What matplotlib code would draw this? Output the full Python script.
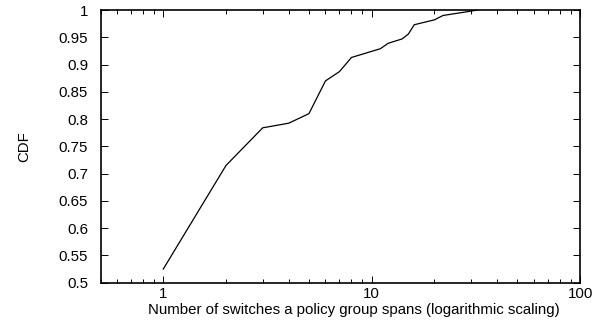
import matplotlib
matplotlib.use('Agg')
import matplotlib.pyplot as plt
from matplotlib.ticker import LogLocator, FixedLocator, NullFormatter, FixedFormatter

plt.rcParams['font.family'] = ['Liberation Sans', 'DejaVu Sans']

# data
switches = [1, 2, 3, 4, 5, 6, 7, 8, 11, 12, 14, 15, 16, 20, 22, 30, 32]
cdf = [0.525, 0.715, 0.784, 0.7925, 0.810, 0.870, 0.887, 0.913, 0.929,
       0.939, 0.947, 0.956, 0.973, 0.982, 0.990, 0.998, 1.0]

x_ticks = [1, 10, 100]
x_labels = ['1', '10', '100']
y_ticks = [0.5, 0.55, 0.6, 0.65, 0.7, 0.75, 0.8, 0.85, 0.9, 0.95, 1.0]
y_labels = ['0.5', '0.55', '0.6', '0.65', '0.7', '0.75', '0.8', '0.85', '0.9', '0.95', '1']

fig = plt.figure(figsize=(6.1, 3.21), dpi=100)
ax = fig.add_axes([0.1648, 0.1193, 0.7862, 0.8495])

ax.plot(switches, cdf, color='black', lw=0.9)

ax.set_xscale('log')
ax.set_xlim(0.5, 100)
ax.set_ylim(0.5, 1.0)

ax.xaxis.set_major_locator(FixedLocator(x_ticks))
ax.xaxis.set_major_formatter(FixedFormatter(x_labels))
ax.xaxis.set_minor_locator(LogLocator(base=10, subs=range(2, 10)))
ax.xaxis.set_minor_formatter(NullFormatter())
ax.yaxis.set_major_locator(FixedLocator(y_ticks))
ax.yaxis.set_major_formatter(FixedFormatter(y_labels))

ax.tick_params(which='both', direction='in', top=True, right=True,
               labelsize=10.8, width=0.7, colors='black')
ax.tick_params(axis='y', which='major', length=5, pad=9)
ax.tick_params(axis='x', which='major', length=5, pad=3)
ax.tick_params(which='minor', length=3)
for s in ax.spines.values():
    s.set_linewidth(1.2)

ax.set_xlabel('Number of switches a policy group spans (logarithmic scaling)',
              fontsize=10.8, labelpad=0)
ax.xaxis.set_label_coords(0.529, -0.075)
ax.set_ylabel('CDF', fontsize=10.8, labelpad=20)

fig.savefig('out.png', dpi=100, facecolor='white')
